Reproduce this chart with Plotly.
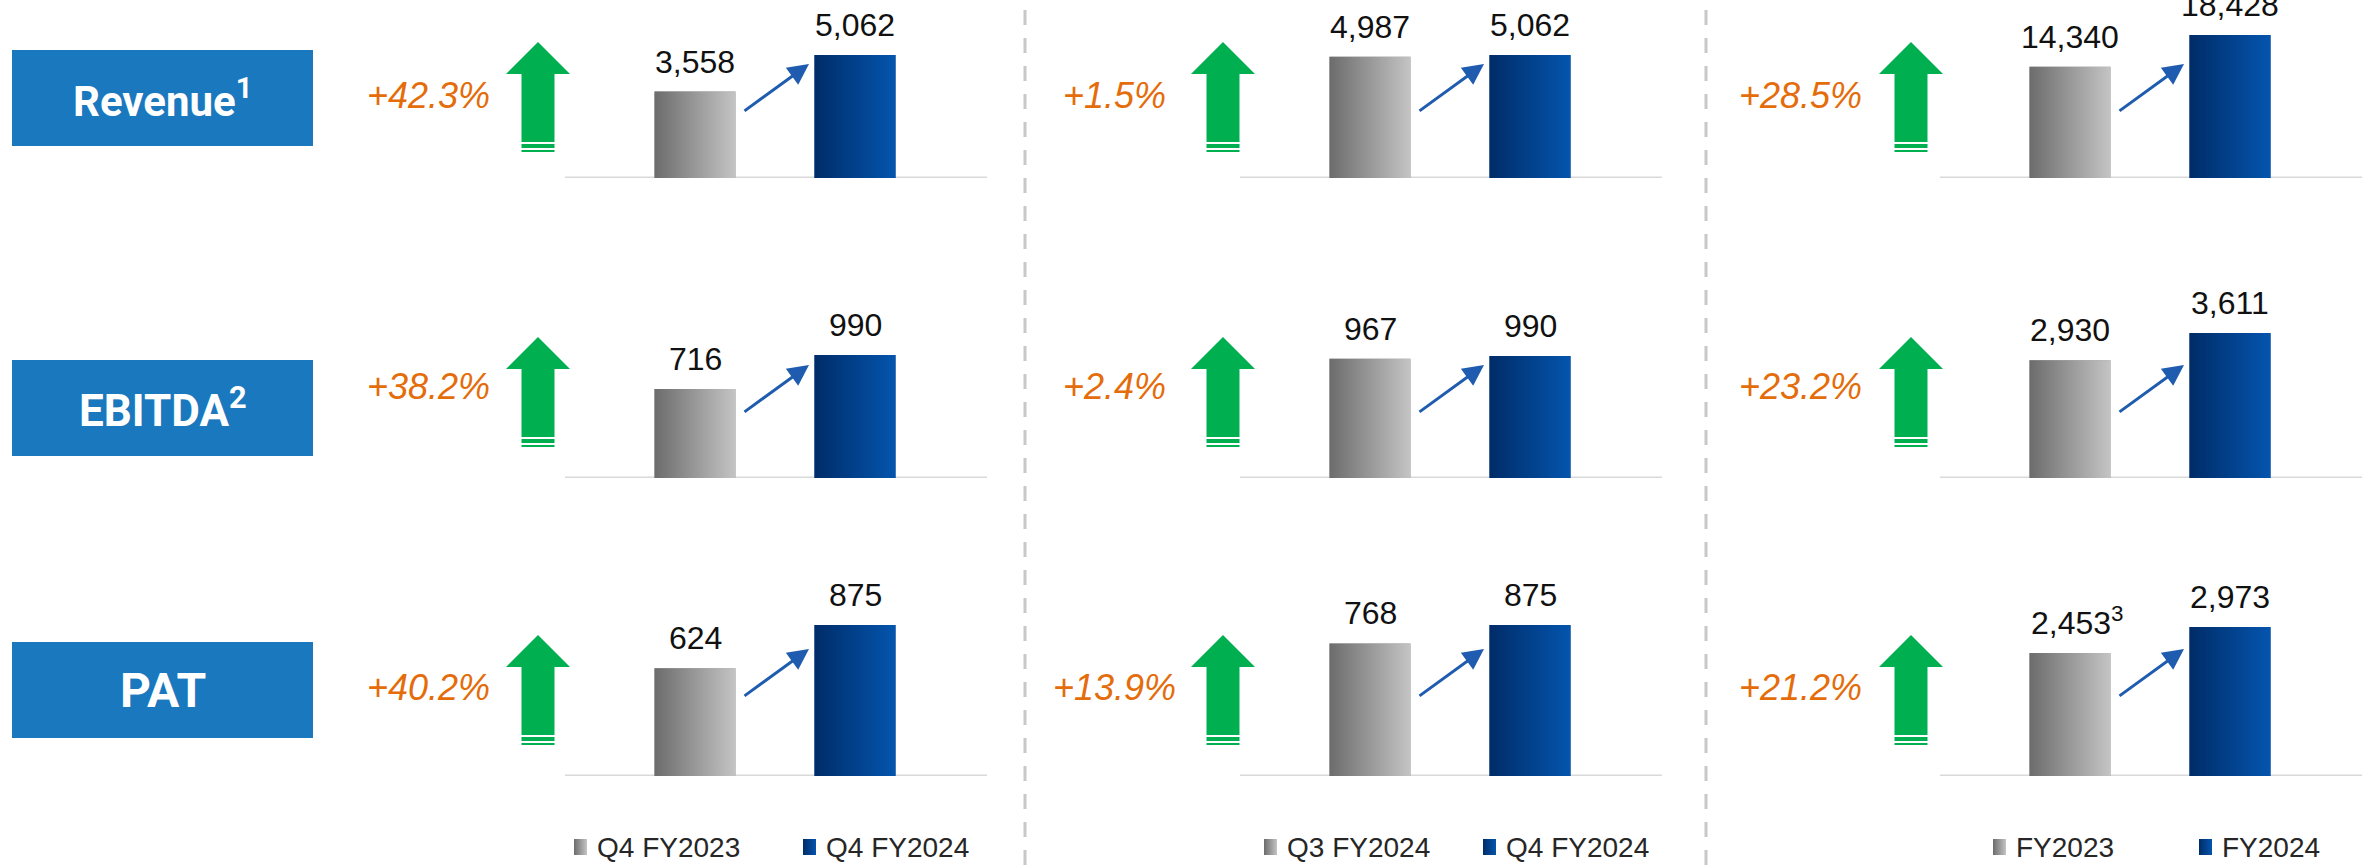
import plotly.graph_objects as go

# ---------------------------------------------------------------- data
metrics = ["Revenue", "EBITDA", "PAT"]
metric_notes = ["1", "2", ""]
metric_label_sizes = [42, 44, 48]

# values by metric row: Revenue, EBITDA, PAT
q4_fy2023 = [3558, 716, 624]
q3_fy2024 = [4987, 967, 768]
q4_fy2024 = [5062, 990, 875]
fy2023 = [14340, 2930, 2453]
fy2024 = [18428, 3611, 2973]

growth_yoy = ["+42.3%", "+38.2%", "+40.2%"]
growth_qoq = ["+1.5%", "+2.4%", "+13.9%"]
growth_fy = ["+28.5%", "+23.2%", "+21.2%"]

# footnote markers attached to individual values: (panel, row, series) -> note
value_notes = {(2, 2, 0): "3"}

panels = [
    dict(prev=q4_fy2023, curr=q4_fy2024, growth=growth_yoy, names=("Q4 FY2023", "Q4 FY2024")),
    dict(prev=q3_fy2024, curr=q4_fy2024, growth=growth_qoq, names=("Q3 FY2024", "Q4 FY2024")),
    dict(prev=fy2023, curr=fy2024, growth=growth_fy, names=("FY2023", "FY2024")),
]

# ---------------------------------------------------------------- layout constants (pixels)
W, H = 2363, 865
panel_x0 = [565, 1240, 1940]          # left end of each panel's baseline
panel_w = 422
row_base = [178, 478, 776]            # baseline of each row
plot_h = 170
# pixel height of the taller bar in each (row, panel) chart
tall_bar_px = [[123, 123, 143], [123, 122, 145], [151, 151, 149]]
cat_left_px, cat_step_px, bar_px = 130, 160, 81

green_arrow_cx = [538, 1223, 1911]
green_arrow_tip = [42, 337, 635]
growth_cx = [428, 1114, 1800]
growth_cy = [95, 387, 687]
trend_y0 = [112, 413, 697]
box_x = (12, 313)
box_y = [(50, 146), (360, 456), (642, 738)]
dividers_x = [1025, 1706]
legend_y = 847
legend_text_x = [(595, 824), (1285, 1504), (2014, 2220)]

BOX_BLUE = "#1a78be"
GREEN = "#00b050"
ORANGE = "#e46c0a"
TREND = "#1f5cb0"
GRAY_L, GRAY_R = (108, 108, 108), (196, 196, 196)
BLUE_L, BLUE_R = (0, 44, 104), (4, 85, 174)


def px(x):
    return x / W


def py(y):
    return 1 - y / H


def rgb(c):
    return "rgb(%d,%d,%d)" % c


def mix(c0, c1, t):
    return "rgb(%d,%d,%d)" % tuple(round(a + (b - a) * t) for a, b in zip(c0, c1))


fig = go.Figure()
layout = dict(
    width=W, height=H, margin=dict(l=0, r=0, t=0, b=0),
    paper_bgcolor="white", plot_bgcolor="rgba(0,0,0,0)",
    barmode="overlay", showlegend=False,
)
annotations = []
shapes = []

x_lo = -cat_left_px / cat_step_px
x_hi = (panel_w - cat_left_px) / cat_step_px
bw = bar_px / cat_step_px
shades = [(GRAY_L, GRAY_R), (BLUE_L, BLUE_R)]

for r in range(3):
    for p, pnl in enumerate(panels):
        n = r * 3 + p + 1
        sx = "" if n == 1 else str(n)
        xa, ya = "x" + sx, "y" + sx
        vals = [pnl["prev"][r], pnl["curr"][r]]
        top = max(vals) * plot_h / tall_bar_px[r][p]
        b = row_base[r]
        layout["xaxis" + sx] = dict(
            domain=[px(panel_x0[p]), px(panel_x0[p] + panel_w)],
            range=[x_lo, x_hi], visible=False, fixedrange=True, anchor=ya,
        )
        layout["yaxis" + sx] = dict(
            domain=[py(b), py(b - plot_h)],
            range=[0, top], visible=False, fixedrange=True, anchor=xa,
        )
        # baseline
        shapes.append(dict(
            type="line", xref=xa + " domain", yref=ya, x0=0, x1=1, y0=0, y1=0,
            line=dict(color="#d9d9d9", width=3), layer="below",
        ))
        # bars
        fig.add_trace(go.Bar(
            x=[0, 1], y=vals, xaxis=xa, yaxis=ya, width=bw,
            marker=dict(color=[mix(*shades[0], 0.5), mix(*shades[1], 0.5)], line=dict(width=0)),
            hoverinfo="skip", showlegend=False,
        ))
        # left-to-right shading on each bar
        for k, v in enumerate(vals):
            c0, c1 = shades[k]
            fig.add_trace(go.Scatter(
                x=[k - bw / 2, k + bw / 2, k + bw / 2, k - bw / 2, k - bw / 2],
                y=[0, 0, v, v, 0], xaxis=xa, yaxis=ya,
                mode="lines", line=dict(width=0, color="rgba(0,0,0,0)"),
                fill="toself",
                fillgradient=dict(type="horizontal", colorscale=[[0, rgb(c0)], [1, rgb(c1)]]),
                hoverinfo="skip", showlegend=False,
            ))
        # value labels
        for k, v in enumerate(vals):
            note = value_notes.get((p, r, k))
            txt = f"{v:,}" + (f"<sup>{note}</sup>" if note else "")
            annotations.append(dict(
                x=k, y=v, xref=xa, yref=ya, text=txt, showarrow=False,
                yanchor="bottom", xanchor="center", yshift=10, xshift=7 if note else 0,
                font=dict(family="Liberation Sans, Arial", size=32, color="#111111"),
            ))
        # trend arrow between the two bars
        x0 = panel_x0[p] + 178
        x1 = panel_x0[p] + 244
        y0 = trend_y0[r]
        y1 = y0 - 48
        annotations.append(dict(
            x=px(x1), y=py(y1), xref="paper", yref="paper", text="",
            showarrow=True, ax=x0 - x1, ay=y0 - y1, axref="pixel", ayref="pixel",
            arrowhead=2, arrowsize=1.4, arrowwidth=3, arrowcolor=TREND, standoff=0,
        ))
        # growth figure
        annotations.append(dict(
            x=px(growth_cx[p]), y=py(growth_cy[r]), xref="paper", yref="paper",
            text=pnl["growth"][r], showarrow=False, xanchor="center", yanchor="middle",
            font=dict(family="Liberation Sans, Arial", size=36, color=ORANGE, style="italic"),
        ))
        # green up arrow with striped tail
        cx, tip = green_arrow_cx[p], green_arrow_tip[r]
        pts = [(cx, tip), (cx + 32, tip + 32), (cx + 16.5, tip + 32), (cx + 16.5, tip + 100),
               (cx - 16.5, tip + 100), (cx - 16.5, tip + 32), (cx - 32, tip + 32)]
        path = "M " + " L ".join(f"{px(a):.6f},{py(c):.6f}" for a, c in pts) + " Z"
        shapes.append(dict(type="path", xref="paper", yref="paper", path=path,
                           fillcolor=GREEN, line=dict(width=0)))
        for s0, s1 in [(102, 106), (108, 110)]:
            shapes.append(dict(type="rect", xref="paper", yref="paper",
                               x0=px(cx - 16.5), x1=px(cx + 16.5),
                               y0=py(tip + s1), y1=py(tip + s0),
                               fillcolor=GREEN, line=dict(width=0)))

# metric name boxes
for r, name in enumerate(metrics):
    y0, y1 = box_y[r]
    shapes.append(dict(type="rect", xref="paper", yref="paper",
                       x0=px(box_x[0]), x1=px(box_x[1]), y0=py(y1), y1=py(y0),
                       fillcolor=BOX_BLUE, line=dict(width=0), layer="below"))
    note = metric_notes[r]
    annotations.append(dict(
        x=px((box_x[0] + box_x[1]) / 2), y=py((y0 + y1) / 2), xref="paper", yref="paper",
        text=name + (f"<sup>{note}</sup>" if note else ""), showarrow=False,
        xanchor="center", yanchor="middle",
        font=dict(family="Roboto, Arial", size=metric_label_sizes[r], color="white", weight="bold"),
    ))

# dashed dividers between panels
for dx in dividers_x:
    shapes.append(dict(type="line", xref="paper", yref="paper",
                       x0=px(dx), x1=px(dx), y0=0, y1=1,
                       line=dict(color="#c8c8c8", width=3, dash="15px,13px")))

# legends under each panel: small shaded swatch + series name
for p, pnl in enumerate(panels):
    for k, (c0, c1) in enumerate(shades):
        tx = legend_text_x[p][k]
        mx = tx - 21
        for j in range(13):
            shapes.append(dict(type="rect", xref="paper", yref="paper",
                               x0=px(mx + j), x1=px(mx + j + 1),
                               y0=py(legend_y + 8), y1=py(legend_y - 8),
                               fillcolor=mix(c0, c1, (j + 0.5) / 13), line=dict(width=0)))
        annotations.append(dict(
            x=px(tx), y=py(legend_y), xref="paper", yref="paper",
            text=pnl["names"][k], showarrow=False, xanchor="left", yanchor="middle",
            font=dict(family="Liberation Sans, Arial", size=28, color="#262626"),
        ))

layout["annotations"] = annotations
layout["shapes"] = shapes
fig.update_layout(**layout)
fig.write_html("out.html", config={"displayModeBar": False})
